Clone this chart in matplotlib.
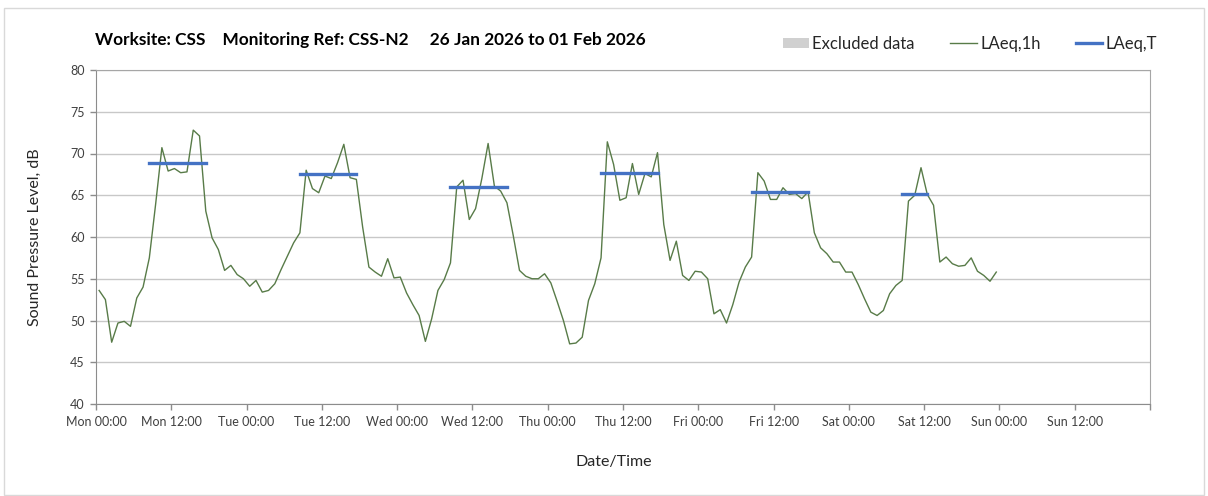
import numpy as np
import pandas as pd
import matplotlib
matplotlib.use("Agg")
import matplotlib.pyplot as plt
import matplotlib.dates as mdates
from matplotlib.patches import Patch, Rectangle
from matplotlib.lines import Line2D
from matplotlib.ticker import FuncFormatter, MultipleLocator

# ---------------- data ----------------
days = ["2026-01-26", "2026-01-27", "2026-01-28", "2026-01-29", "2026-01-30", "2026-01-31"]
mon = [53.6, 52.5, 47.4, 49.7, 49.9, 49.3, 52.7, 54.0, 57.5, 63.9, 70.7, 67.9,
       68.2, 67.7, 67.8, 72.8, 72.1, 63.1, 59.9, 58.5, 56.0, 56.6, 55.5, 55.0]
tue = [54.1, 54.8, 53.4, 53.6, 54.4, 56.1, 57.7, 59.3, 60.5, 68.0, 65.8, 65.3,
       67.3, 67.0, 68.9, 71.1, 67.1, 66.9, 61.2, 56.4, 55.8, 55.3, 57.4, 55.1]
wed = [55.2, 53.3, 51.9, 50.6, 47.5, 50.2, 53.6, 54.9, 56.9, 66.0, 66.8, 62.1,
       63.4, 67.0, 71.2, 66.1, 65.5, 64.1, 60.2, 56.0, 55.3, 55.0, 55.0, 55.6]
thu = [54.5, 52.3, 50.0, 47.2, 47.3, 48.0, 52.4, 54.4, 57.5, 71.4, 68.7, 64.4,
       64.7, 68.8, 65.1, 67.6, 67.2, 70.1, 61.5, 57.2, 59.5, 55.4, 54.8, 55.9]
fri = [55.8, 55.0, 50.8, 51.3, 49.7, 51.9, 54.6, 56.4, 57.6, 67.7, 66.7, 64.5,
       64.5, 65.9, 65.1, 65.2, 64.6, 65.4, 60.5, 58.7, 58.0, 57.0, 57.0, 55.8]
sat = [55.8, 54.3, 52.6, 51.0, 50.6, 51.2, 53.2, 54.2, 54.8, 64.3, 65.0, 68.3,
       65.1, 63.8, 57.0, 57.6, 56.8, 56.5, 56.6, 57.5, 55.9, 55.4, 54.7, 55.8]
hourly = [mon, tue, wed, thu, fri, sat]

laeq_t = [68.9, 67.5, 66.0, 67.7, 65.35, 65.2]
t_start_hour = [8, 8, 8, 8, 8, 8]
t_end_hour = [18, 18, 18, 18, 18, 13]

title = "Worksite: CSS    Monitoring Ref: CSS-N2     26 Jan 2026 to 01 Feb 2026"
x_start = pd.Timestamp("2026-01-26 00:00")
x_end = pd.Timestamp("2026-02-02 00:00")

# ---------------- figure ----------------
plt.rcParams['font.family'] = ['Lato', 'DejaVu Sans']
W, H = 1208, 496
fig = plt.figure(figsize=(W / 100, H / 100), dpi=100)
ax = fig.add_axes([96 / W, 1 - 404 / H, (1150 - 96) / W, (404 - 70) / H])

# outer chart-area frame
fig.patches.append(Rectangle((4 / W, 1 - 495 / H), 1200 / W, 487 / H,
                             transform=fig.transFigure, fill=False,
                             edgecolor='#d9d9d9', linewidth=1.0))

green = '#587b48'
blue = '#4472c4'

all_vals = [v for vals in hourly for v in vals]
t_all = pd.date_range(pd.Timestamp(days[0]) + pd.Timedelta(minutes=30),
                      periods=len(all_vals), freq='h')
ax.plot(t_all, all_vals, color=green, linewidth=1.0, zorder=3)

for d, lvl, s, e in zip(days, laeq_t, t_start_hour, t_end_hour):
    t = pd.date_range(pd.Timestamp(d) + pd.Timedelta(hours=s, minutes=30), periods=e - s, freq='h')
    ax.plot(t, [lvl] * len(t), color=blue, linewidth=2.4,
            solid_capstyle='projecting', zorder=4)

ax.set_xlim(x_start, x_end)
ax.set_ylim(40, 80)
ax.yaxis.set_major_locator(MultipleLocator(5))

ax.xaxis.set_major_locator(mdates.HourLocator(byhour=[0, 12]))
ax.xaxis.set_minor_locator(mdates.DayLocator())
end_num = mdates.date2num(x_end)


def fmt(x, pos):
    if x >= end_num - 1e-6:
        return ""
    return mdates.num2date(x).strftime("%a %H:%M")


ax.xaxis.set_major_formatter(FuncFormatter(fmt))

ax.grid(axis='y', which='major', color='#c8c8c8', linewidth=1.0)
ax.grid(axis='x', which='minor', color='#e3e3e3', linewidth=1.0)
ax.set_axisbelow(True)

ax.tick_params(axis='x', which='major', length=4, width=1, color='#8c8c8c',
               pad=5, labelsize=9, labelcolor='#404040')
ax.tick_params(axis='x', which='minor', length=0)
ax.tick_params(axis='y', which='major', length=4, width=1, color='#8c8c8c',
               pad=4, labelsize=9, labelcolor='#404040')

for side in ['left', 'bottom']:
    ax.spines[side].set_color('#8c8c8c')
for side in ['top', 'right']:
    ax.spines[side].set_color('#a6a6a6')

ax.set_ylabel("Sound Pressure Level, dB", fontsize=11.5, color='#262626')
ax.yaxis.set_label_coords(-0.051, 0.5)
ax.set_xlabel("Date/Time", fontsize=11.5, color='#262626')
ax.xaxis.set_label_coords((614 - 96) / 1054, -0.152)

fig.text(95 / W, 1 - 40 / H, title, fontsize=12.4, fontweight='bold',
         color='#000000', ha='left', va='center')

handles = [Patch(facecolor='#d0d0d0', edgecolor='none'),
           Line2D([], [], color=green, linewidth=1.0),
           Line2D([], [], color=blue, linewidth=2.4)]
labels = ["Excluded data", "LAeq,1h", "LAeq,T"]
fig.legend(handles, labels, loc='center right', bbox_to_anchor=(1172 / W, 1 - 44 / H),
           ncol=3, frameon=False, fontsize=12, handlelength=1.6, handleheight=0.6,
           handletextpad=0.2, columnspacing=2.1, labelcolor='#262626')

fig.savefig("out.png", dpi=100)
